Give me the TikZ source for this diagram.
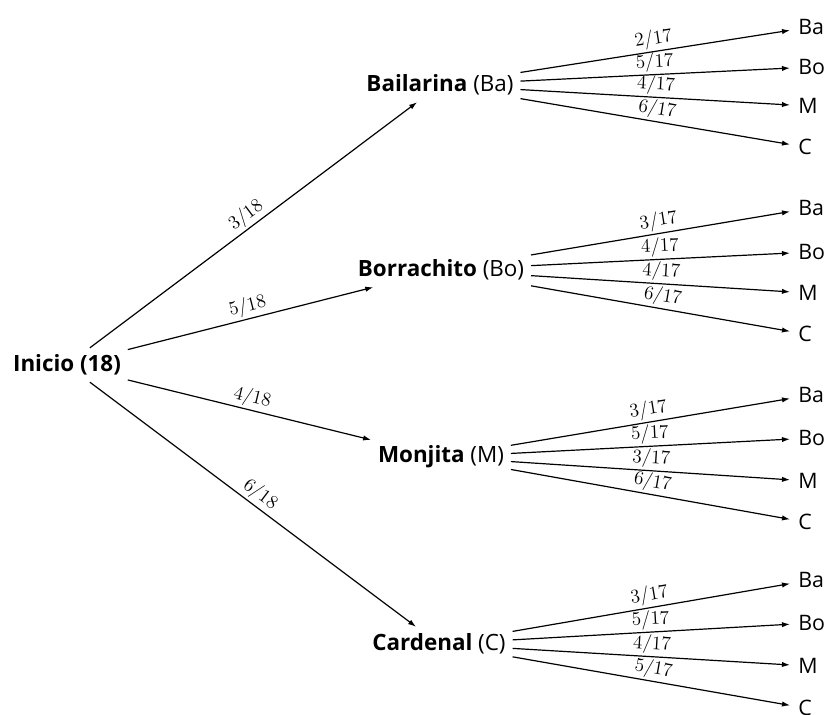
\documentclass[tikz,border=0pt]{standalone}
\usepackage{fontspec}
\setsansfont{Open Sans}
\usetikzlibrary{arrows.meta}
\begin{document}
\begin{tikzpicture}[x=0.75pt,y=-0.75pt,
  mid/.style={font=\sffamily\fontsize{16.8}{19}\selectfont, inner sep=5pt},
  leaf/.style={font=\sffamily\fontsize{16}{19}\selectfont, anchor=west, inner xsep=6pt, inner ysep=3pt},
  arr/.style={-{Latex[length=6pt,width=4pt]}, line width=0.9pt},
  lab/.style={midway, above, sloped, inner sep=1.5pt, font=\fontsize{15.5}{17}\selectfont}]
\useasboundingbox (0,0) rectangle (827,714);
\node[mid] (ini) at (67,365) {\textbf{Inicio (18)}};
\node[mid] (ba) at (440,85) {\textbf{Bailarina} (Ba)};
\node[mid] (bo) at (441,270) {\textbf{Borrachito} (Bo)};
\node[mid] (m) at (441,457) {\textbf{Monjita} (M)};
\node[mid] (c) at (439,644) {\textbf{Cardenal} (C)};
\draw[arr] (ini) -- node[lab]{$3/18$} (ba);
\draw[arr] (ini) -- node[lab]{$5/18$} (bo);
\draw[arr] (ini) -- node[lab]{$4/18$} (m);
\draw[arr] (ini) -- node[lab]{$6/18$} (c);
\foreach \p/\ya/\yb/\yc/\yd/\la/\lb/\lc/\ld in
  {ba/27/67/106/147/2/5/4/6, bo/208/252/293/334/3/4/4/6,
   m/395/438/481/522/3/5/3/6, c/580/623/666/708/3/5/4/5} {
  \node[leaf] (\p-ba) at (790,\ya) {Ba};
  \node[leaf] (\p-bo) at (790,\yb) {Bo};
  \node[leaf] (\p-m) at (790,\yc) {M};
  \node[leaf] (\p-c) at (790,\yd) {C};
  \draw[arr] (\p) -- node[lab]{$\la/17$} (\p-ba);
  \draw[arr] (\p) -- node[lab]{$\lb/17$} (\p-bo);
  \draw[arr] (\p) -- node[lab]{$\lc/17$} (\p-m);
  \draw[arr] (\p) -- node[lab]{$\ld/17$} (\p-c);
}
\end{tikzpicture}
\end{document}
